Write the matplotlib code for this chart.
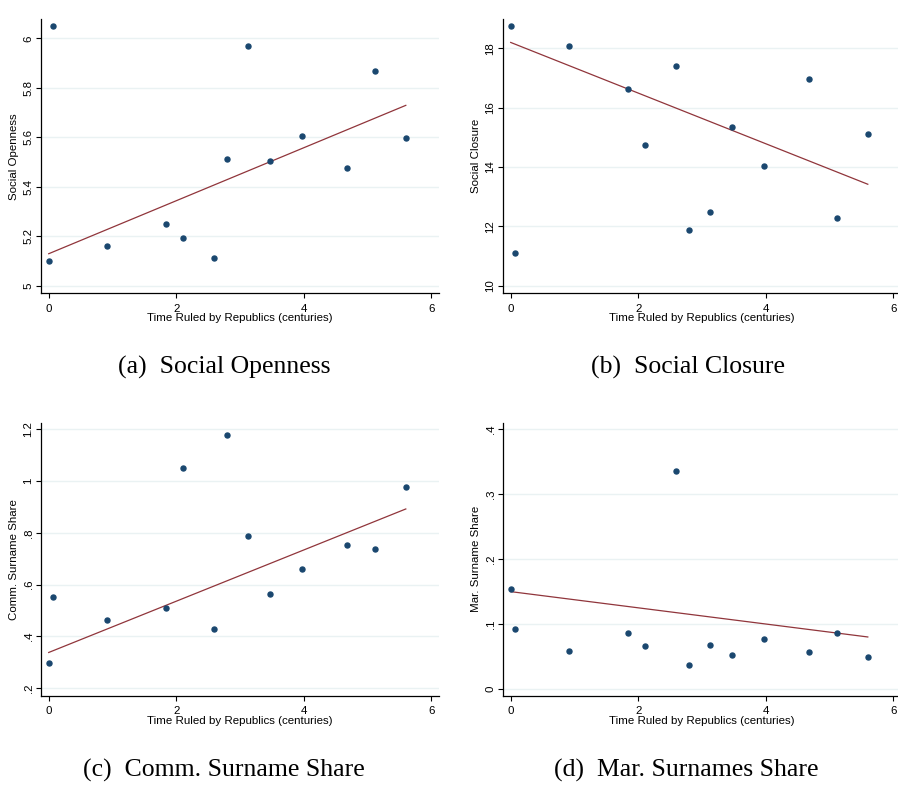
import matplotlib
matplotlib.use("Agg")
import matplotlib.pyplot as plt
import numpy as np

# time ruled by republics (centuries), same cities in every panel
years = [0.0, 0.07, 0.92, 1.84, 2.10, 2.60, 2.80, 3.13, 3.47, 3.97, 4.68, 5.11, 5.60]

social_openness = [5.101, 6.050, 5.159, 5.248, 5.194, 5.113, 5.513, 5.968, 5.503, 5.605, 5.477, 5.867, 5.598]
social_closure = [18.75, 11.10, 18.09, 16.63, 14.73, 17.42, 11.89, 12.47, 15.34, 14.04, 16.97, 12.29, 15.12]
comm_share = [0.298, 0.553, 0.464, 0.508, 1.050, 0.429, 1.177, 0.786, 0.562, 0.662, 0.752, 0.737, 0.976]
mar_share = [0.153, 0.092, 0.058, 0.086, 0.066, 0.336, 0.037, 0.068, 0.052, 0.077, 0.057, 0.086, 0.049]

# fitted line values at the first and last year
fit_openness = [5.129, 5.729]
fit_closure = [18.20, 13.42]
fit_comm = [0.338, 0.892]
fit_mar = [0.1496, 0.0797]

x_ticks = [0, 2, 4, 6]
xlab = "Time Ruled by Republics (centuries)"

NAVY = "#1a476f"
MAROON = "#90353b"
GRID = "#eaf2f3"
FS = 8.25

plt.rcParams["font.family"] = ["Liberation Sans", "DejaVu Sans"]

fig = plt.figure(figsize=(8.98, 7.85), dpi=100)
W, H = 898.0, 785.0

def px_axes(left, top, right, bottom):
    return fig.add_axes([left / W, 1 - bottom / H, (right - left) / W, (bottom - top) / H])

def panel(ax, y, fit, ylabel, yticks, yticklabels, ylim):
    x = np.array(years)
    ax.plot([x.min(), x.max()], fit, color=MAROON, lw=0.9, zorder=2)
    ax.plot(x, y, "o", color=NAVY, ms=3.6, mec=NAVY, zorder=3)
    ax.set_xlim(-0.116, 6.116)
    ax.set_ylim(*ylim)
    ax.set_xticks(x_ticks)
    ax.set_xticklabels([str(t) for t in x_ticks])
    ax.set_yticks(yticks)
    ax.set_yticklabels(yticklabels, rotation=90, va="center")
    for yt in yticks:
        ax.axhline(yt, color=GRID, lw=1.0, zorder=0)
    ax.spines["top"].set_visible(False)
    ax.spines["right"].set_visible(False)
    ax.spines["left"].set_linewidth(0.9)
    ax.spines["bottom"].set_linewidth(0.9)
    ax.tick_params(axis="both", direction="out", length=3.5, width=0.8,
                   labelsize=FS, pad=2, colors="black")
    ax.tick_params(axis="x", pad=4)
    ax.set_xlabel(xlab, fontsize=FS, labelpad=-0.5)
    ax.set_ylabel(ylabel, fontsize=FS, labelpad=3)

ax1 = px_axes(41.3, 19.3, 438.7, 293.3)
panel(ax1, social_openness, fit_openness, "Social Openness",
      [5, 5.2, 5.4, 5.6, 5.8, 6], ["5", "5.2", "5.4", "5.6", "5.8", "6"], (4.969, 6.077))

ax2 = px_axes(503.3, 19.3, 900.7, 293.3)
panel(ax2, social_closure, fit_closure, "Social Closure",
      [10, 12, 14, 16, 18], ["10", "12", "14", "16", "18"], (9.744, 18.98))

ax3 = px_axes(41.3, 422.7, 438.7, 696.0)
panel(ax3, comm_share, fit_comm, "Comm. Surname Share",
      [0.2, 0.4, 0.6, 0.8, 1.0, 1.2], [".2", ".4", ".6", ".8", "1", "1.2"], (0.170, 1.225))

ax4 = px_axes(503.3, 422.7, 900.7, 696.0)
panel(ax4, mar_share, fit_mar, "Mar. Surname Share",
      [0, 0.1, 0.2, 0.3, 0.4], ["0", ".1", ".2", ".3", ".4"], (-0.0113, 0.410))

captions = ["(a)  Social Openness", "(b)  Social Closure",
            "(c)  Comm. Surname Share", "(d)  Mar. Surnames Share"]
cap_pos = [(224, 367), (688, 367), (224, 770), (686, 770)]
for txt, (cx, cy) in zip(captions, cap_pos):
    fig.text(cx / W, 1 - cy / H, txt, ha="center", va="center",
             family=["Liberation Serif", "DejaVu Serif"], fontsize=18.5)

fig.savefig("out.png", dpi=100)
